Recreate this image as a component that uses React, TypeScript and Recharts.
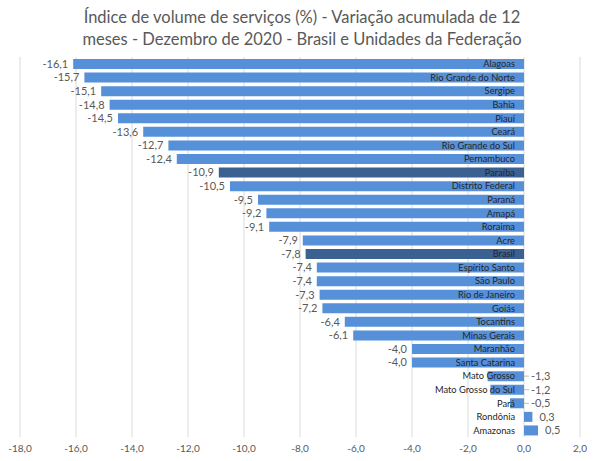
import React from 'react'
import { Bar, BarChart, CartesianGrid, Cell, LabelList, XAxis, YAxis } from 'recharts'

const states = [
  'Alagoas', 'Rio Grande do Norte', 'Sergipe', 'Bahia', 'Piauí', 'Ceará', 'Rio Grande do Sul',
  'Pernambuco', 'Paraíba', 'Distrito Federal', 'Paraná', 'Amapá', 'Roraima', 'Acre', 'Brasil',
  'Espírito Santo', 'São Paulo', 'Rio de Janeiro', 'Goiás', 'Tocantins', 'Minas Gerais',
  'Maranhão', 'Santa Catarina', 'Mato Grosso', 'Mato Grosso do Sul', 'Pará', 'Rondônia', 'Amazonas',
]
const variation = [
  -16.1, -15.7, -15.1, -14.8, -14.5, -13.6, -12.7, -12.4, -10.9, -10.5, -9.5, -9.2, -9.1, -7.9,
  -7.8, -7.4, -7.4, -7.3, -7.2, -6.4, -6.1, -4.0, -4.0, -1.3, -1.2, -0.5, 0.3, 0.5,
]
const highlighted = ['Paraíba', 'Brasil']
const xTicks = [-18, -16, -14, -12, -10, -8, -6, -4, -2, 0, 2]

const data = states.map((name, i) => ({ name, value: variation[i] }))

const fmt = (v: number) => v.toFixed(1).replace('.', ',')
const font = 'Lato, "Open Sans", sans-serif'

function edges(props: any) {
  const x = Number(props.x), w = Number(props.width)
  const left = Math.min(x, x + w), right = Math.max(x, x + w)
  const v = Number(props.value)
  return { zero: v < 0 ? right : left, end: v < 0 ? left : right, cy: Number(props.y) + Number(props.height) / 2 }
}

const NameLabel = (props: any) => {
  const { zero, cy } = edges({ ...props, value: variation[props.index] })
  return (
    <text x={zero - 9} y={cy} dy="0.35em" textAnchor="end" fontSize={9.3} fontFamily={font} fill="#262626">
      {states[props.index]}
    </text>
  )
}

const ValueLabel = (props: any) => {
  const v = variation[props.index]
  const { zero, end, cy } = edges({ ...props, value: v })
  if (v <= -2) {
    return (
      <text x={end - 5} y={cy} dy="0.35em" textAnchor="end" fontSize={11} fontFamily={font} fill="#595959">
        {fmt(v)}
      </text>
    )
  }
  const start = Math.max(zero, end) + 7
  return (
    <g>
      {v < 0 && <line x1={zero} x2={start - 2} y1={cy} y2={cy} stroke="#bfbfbf" strokeWidth={1} />}
      <text x={start} y={cy} dy="0.35em" textAnchor="start" fontSize={11} fontFamily={font} fill="#595959">
        {fmt(v)}
      </text>
    </g>
  )
}

export default function App() {
  return (
    <div style={{ position: 'absolute', left: 0, top: 0, width: 595, height: 461, background: '#fff' }}>
      <div
        style={{
          position: 'absolute', left: 0, top: 6, width: 604, textAlign: 'center',
          fontFamily: font, fontSize: 16.5, lineHeight: '22px', color: '#595959',
        }}
      >
        Índice de volume de serviços (%) - Variação acumulada de 12
        <br />
        meses - Dezembro de 2020 - Brasil e Unidades da Federação
      </div>
      <div style={{ position: 'absolute', left: 0, top: 0 }}>
        <BarChart
          width={595}
          height={461}
          data={data}
          layout="vertical"
          margin={{ top: 57, right: 15, bottom: 4, left: 20 }}
          barSize={10}
        >
          <CartesianGrid horizontal={false} stroke="#d9d9d9" />
          <XAxis
            type="number"
            domain={[-18, 2]}
            ticks={xTicks}
            tickFormatter={fmt}
            axisLine={false}
            tickLine={false}
            height={20}
            interval={0}
            tick={{ fontSize: 10, fontFamily: font, fill: '#595959' }}
          />
          <YAxis type="category" dataKey="name" hide />
          <Bar dataKey="value" isAnimationActive={false}>
            {data.map((d) => (
              <Cell key={d.name} fill={highlighted.includes(d.name) ? '#3a6192' : '#5590d8'} />
            ))}
            <LabelList dataKey="value" content={<NameLabel />} />
            <LabelList dataKey="value" content={<ValueLabel />} />
          </Bar>
        </BarChart>
      </div>
    </div>
  )
}
